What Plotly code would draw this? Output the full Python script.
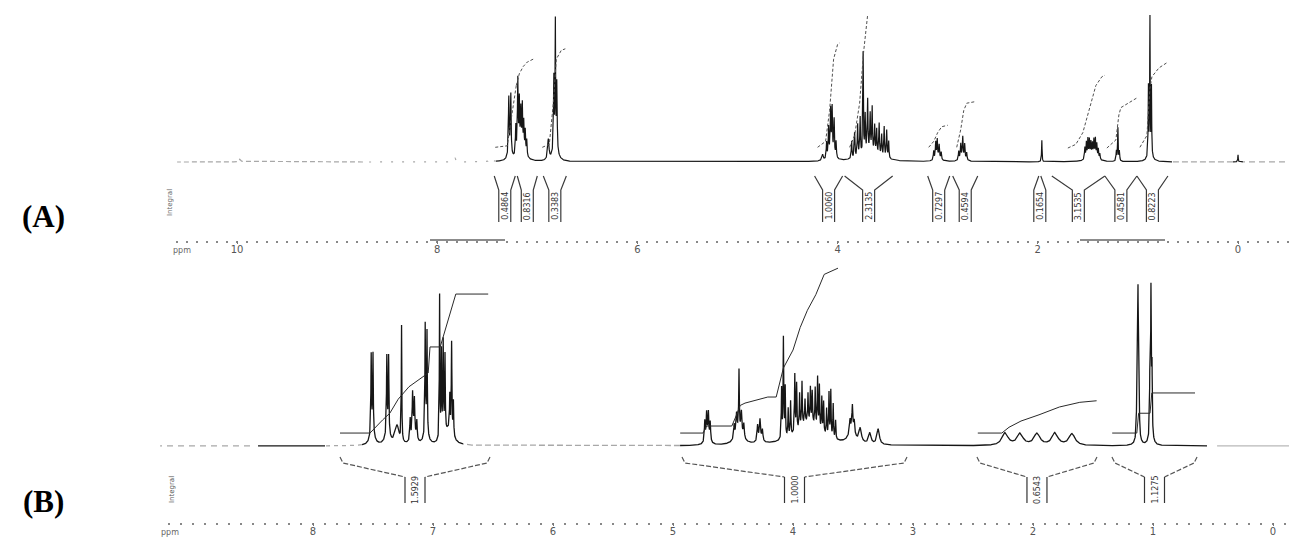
import numpy as np
import plotly.graph_objects as go

# page body keeps an 8px margin, so the figure is drawn 8px in from the top-left
OX, OY = 8, 8
WF, HF = 1289, 530

# ======================= DATA =======================
# ---- Panel A : peak list (chemical shift / ppm, relative height, half-width / ppm)
A_ppm = [9.97, 7.82, 7.47,
         7.285, 7.265, 7.275,
         7.215, 7.195, 7.18, 7.165, 7.15, 7.135, 7.12, 7.105, 7.16,
         6.89, 6.835, 6.82, 6.805, 6.82,
         4.15, 4.11, 4.09, 4.07, 4.055, 4.035, 4.015, 4.06,
         3.86, 3.83, 3.80, 3.775, 3.745, 3.725, 3.70, 3.675, 3.655, 3.63, 3.61, 3.585, 3.56, 3.535, 3.51, 3.49, 3.68,
         3.04, 3.02, 3.005, 2.985, 2.965, 3.00,
         2.79, 2.77, 2.75, 2.73, 2.71, 2.75,
         1.96,
         1.53, 1.515, 1.50, 1.485, 1.47, 1.455, 1.44, 1.425, 1.41, 1.395, 1.38, 1.46,
         1.215, 1.20, 1.185,
         0.895, 0.88, 0.865, 0.88,
         0.0]
A_height = [2, 2.5, 2.5,
            38, 40, 6,
            20, 50, 34, 26, 30, 20, 16, 11, 8,
            14, 50, 86, 46, 8,
            4, 11, 20, 30, 31, 25, 11, 5,
            12, 17, 22, 26, 70, 26, 36, 26, 31, 19, 17, 22, 15, 21, 19, 12, 6,
            6, 11, 12, 9, 5, 3,
            6, 10, 14, 10, 5, 3,
            15,
            8, 11, 13, 12, 10, 9, 12, 13, 10, 7, 4, 3,
            7, 23, 7,
            48, 95, 48, 4,
            5]
A_hwhm = [0.01, 0.006, 0.01,
          0.004, 0.004, 0.02,
          0.004, 0.004, 0.004, 0.004, 0.004, 0.004, 0.004, 0.004, 0.04,
          0.008, 0.004, 0.003, 0.004, 0.03,
          0.008, 0.004, 0.004, 0.004, 0.004, 0.004, 0.004, 0.03,
          0.004, 0.004, 0.004, 0.004, 0.003, 0.004, 0.004, 0.004, 0.004, 0.004, 0.004, 0.004, 0.004, 0.004, 0.004, 0.004, 0.12,
          0.004, 0.004, 0.004, 0.004, 0.004, 0.03,
          0.004, 0.004, 0.004, 0.004, 0.004, 0.03,
          0.003,
          0.004, 0.004, 0.004, 0.004, 0.004, 0.004, 0.004, 0.004, 0.004, 0.004, 0.004, 0.06,
          0.004, 0.003, 0.004,
          0.003, 0.0025, 0.003, 0.03,
          0.003]

# Panel A integration regions
A_reg_start = [7.43, 7.20, 6.94, 4.23, 3.93, 3.10, 2.85, 1.99, 1.86, 1.33, 1.01]
A_reg_end = [7.22, 7.00, 6.71, 3.95, 3.45, 2.88, 2.60, 1.97, 1.33, 1.01, 0.70]
A_reg_label = ["0.4864", "0.8316", "0.3383", "1.0060", "2.3135", "0.7297",
               "0.4594", "0.1654", "3.1535", "0.4581", "0.8223"]

# Panel A integral curves (ppm, relative value)
A_integral_ppm = [[7.42, 7.30, 7.27, 7.24, 7.21],
                  [7.21, 7.18, 7.14, 7.10, 7.04],
                  [6.95, 6.88, 6.84, 6.81, 6.76, 6.72],
                  [4.20, 4.12, 4.08, 4.04, 4.00, 3.98],
                  [3.88, 3.83, 3.78, 3.74, 3.70],
                  [3.09, 3.04, 3.00, 2.96, 2.90],
                  [2.81, 2.77, 2.74, 2.71, 2.63],
                  [1.70, 1.62, 1.55, 1.48, 1.42, 1.36, 1.33],
                  [1.31, 1.22, 1.19, 1.17, 1.00],
                  [0.98, 0.91, 0.88, 0.86, 0.79, 0.70]]
A_integral_val = [[10, 11, 25, 40, 52],
                  [52, 60, 65, 68, 70],
                  [10, 12, 40, 70, 76, 77],
                  [10, 14, 35, 70, 80, 81],
                  [10, 18, 40, 75, 100],
                  [10, 14, 20, 24, 25],
                  [10, 22, 35, 40, 41],
                  [9.5, 12, 20, 38, 52, 58, 59],
                  [9.5, 15, 32, 37, 44],
                  [10, 18, 50, 58, 64, 68]]

A_tick_vals = [10, 8, 6, 4, 2, 0]

# ---- Panel B : peak list
B_ppm = [7.515, 7.50, 7.507, 7.385, 7.37, 7.378, 7.30, 7.262,
         7.19, 7.17, 7.155, 7.135, 7.16, 7.065, 7.05, 7.057,
         6.945, 6.93, 6.915, 6.90, 6.86, 6.845, 6.83, 6.87,
         4.735, 4.72, 4.705, 4.69, 4.712,
         4.49, 4.47, 4.45, 4.43, 4.41, 4.45,
         4.295, 4.275, 4.255, 4.275,
         4.095, 4.08, 4.065, 4.04, 4.02, 3.985, 3.97, 3.945, 3.925, 3.90, 3.875, 3.855,
         3.84, 3.815, 3.795, 3.78, 3.76, 3.745, 3.72, 3.70, 3.685, 3.665, 3.645, 3.87,
         3.525, 3.505, 3.49, 3.51, 3.44, 3.36, 3.29,
         2.233, 2.108, 1.967, 1.817, 1.675,
         1.133, 1.125, 1.117, 1.025, 1.017, 1.009, 1.125, 1.017]
B_height = [50, 50, 9, 48, 48, 9, 12, 74,
            14, 27, 22, 12, 7, 70, 65, 7,
            92, 55, 60, 50, 22, 58, 22, 10,
            13, 16, 16, 12, 5,
            9, 13, 38, 14, 9, 9,
            10, 12, 7, 3,
            32, 64, 32, 18, 22, 37, 30, 22, 28, 15, 18, 22,
            20, 24, 32, 28, 22, 20, 17, 28, 30, 22, 12, 15,
            8, 15, 8, 9, 9, 7, 10,
            8, 7.5, 7.5, 8, 7.5,
            50, 84, 42, 52, 84, 48, 8, 8]
B_hwhm = [0.003, 0.003, 0.02, 0.003, 0.003, 0.02, 0.02, 0.0025,
          0.004, 0.004, 0.004, 0.004, 0.02, 0.003, 0.003, 0.02,
          0.0025, 0.003, 0.003, 0.003, 0.003, 0.003, 0.003, 0.04,
          0.004, 0.004, 0.004, 0.004, 0.02,
          0.005, 0.005, 0.003, 0.005, 0.005, 0.035,
          0.005, 0.005, 0.005, 0.02,
          0.003, 0.003, 0.003, 0.003, 0.003, 0.003, 0.003, 0.003, 0.003, 0.003, 0.003, 0.003,
          0.003, 0.003, 0.003, 0.003, 0.003, 0.003, 0.003, 0.003, 0.003, 0.003, 0.003, 0.12,
          0.005, 0.004, 0.005, 0.03, 0.012, 0.012, 0.012,
          0.03, 0.03, 0.03, 0.03, 0.03,
          0.003, 0.0025, 0.003, 0.003, 0.0025, 0.003, 0.015, 0.015]

B_reg_start = [7.775, 4.925, 2.467, 1.342]
B_reg_end = [6.525, 3.05, 1.467, 0.633]
B_reg_label = ["1.5929", "1.0000", "0.6543", "1.1275"]

B_integral_ppm = [[7.775, 7.525, 7.42, 7.36, 7.29, 7.20, 7.04, 7.025, 6.94, 6.81, 6.54],
                  [4.94, 4.75, 4.72, 4.51, 4.47, 4.44, 4.40, 4.21, 4.14, 4.08, 4.00, 3.94, 3.88, 3.81, 3.74, 3.625],
                  [2.46, 2.26, 2.20, 2.10, 1.95, 1.78, 1.61, 1.47],
                  [1.34, 1.135, 1.12, 1.025, 1.01, 0.65]]
B_integral_val = [[8.3, 8.3, 16.7, 21, 30, 38, 46.8, 63.5, 63.5, 97.4, 97.4],
                  [8.3, 8.3, 12.8, 12.8, 20, 26, 27.5, 31.4, 31.4, 50, 61.5, 76, 87, 97, 110, 114],
                  [8.3, 8.3, 12, 16, 20, 25, 28, 29],
                  [8.3, 8.3, 21, 21, 34, 34]]

B_tick_vals = [8, 7, 6, 5, 4, 3, 2, 1, 0]

# ======================= LAYOUT GEOMETRY =======================
def fx(px):   # page pixel column -> paper fraction
    return (px - OX) / WF

def fy(py):   # page pixel row -> paper fraction
    return 1 - (py - OY) / HF

def ppmA(px):
    return (1238 - px) / 100.1

def vA(py):
    return (162 - py) / 1.47

def ppmB(px):
    return (1273 - px) / 120.0

def vB(py):
    return (446 - py) / 1.56

A_PX = 100.1   # px per ppm
B_PX = 120.0


def spectrum(grid, pos, hgt, wid):
    y = np.zeros_like(grid)
    for p, h, w in zip(pos, hgt, wid):
        y += h / (1.0 + ((grid - p) / w) ** 2)
    return y


fig = go.Figure()

BLACK = '#161616'
GREY = '#a8a8a8'

# ---------------- Panel A spectrum ----------------
gA = np.arange(ppmA(1295), ppmA(177), 0.001)
yA = spectrum(gA, A_ppm, A_height, A_hwhm)

A_segments = [  # (hi ppm, lo ppm, colour, dash)
    (ppmA(177), ppmA(363), GREY, '5px,3px'),
    (ppmA(363), ppmA(496), GREY, '2px,9px'),
    (ppmA(496), ppmA(1172), BLACK, 'solid'),
    (ppmA(1172), 0.05, GREY, '6px,3px'),
    (0.05, -0.05, BLACK, 'solid'),
    (-0.05, ppmA(1295), GREY, '6px,4px'),
]
for hi, lo, col, dash in A_segments:
    m = (gA <= hi) & (gA >= lo)
    fig.add_trace(go.Scatter(x=gA[m], y=yA[m], mode='lines', xaxis='x', yaxis='y',
                             line=dict(color=col, width=1.2, dash=dash), hoverinfo='skip'))

for xs, ys in zip(A_integral_ppm, A_integral_val):
    fig.add_trace(go.Scatter(x=xs, y=ys, mode='lines', xaxis='x', yaxis='y',
                             line=dict(color='#505050', width=1, dash='3px,2px'), hoverinfo='skip'))

bx, by = [], []
off = 6 / A_PX
for L, R in zip(A_reg_start, A_reg_end):
    C = (L + R) / 2
    bx += [L, C + off, C + off, None, R, C - off, C - off, None]
    by += [vA(176), vA(190), vA(222), None, vA(176), vA(190), vA(222), None]
fig.add_trace(go.Scatter(x=bx, y=by, mode='lines', xaxis='x', yaxis='y',
                         line=dict(color='#3a3a3a', width=1.2), hoverinfo='skip'))

annotations = []
for L, R, lab in zip(A_reg_start, A_reg_end, A_reg_label):
    annotations.append(dict(x=(L + R) / 2, y=vA(206), xref='x', yref='y', text=lab,
                            textangle=-90, showarrow=False, xanchor='center', yanchor='middle',
                            font=dict(size=8, color='#333', family='DejaVu Sans')))

# ---------------- Panel B spectrum ----------------
gB = np.arange(ppmB(1297), ppmB(160), 0.001)
yB = spectrum(gB, B_ppm, B_height, B_hwhm)

B_segments = [
    (ppmB(160), ppmB(250), GREY, '6px,5px'),
    (ppmB(258), ppmB(325), BLACK, 'solid'),
    (ppmB(325), ppmB(362), GREY, '4px,4px'),
    (ppmB(362), ppmB(463), BLACK, 'solid'),
    (ppmB(463), ppmB(680), GREY, '6px,3px'),
    (ppmB(680), ppmB(1207), BLACK, 'solid'),
    (ppmB(1217), ppmB(1297), '#b8b8b8', 'solid'),
]
for hi, lo, col, dash in B_segments:
    m = (gB <= hi) & (gB >= lo)
    fig.add_trace(go.Scatter(x=gB[m], y=yB[m], mode='lines', xaxis='x2', yaxis='y2',
                             line=dict(color=col, width=1.3, dash=dash), hoverinfo='skip'))

for xs, ys in zip(B_integral_ppm, B_integral_val):
    fig.add_trace(go.Scatter(x=xs, y=ys, mode='lines', xaxis='x2', yaxis='y2',
                             line=dict(color='#2a2a2a', width=1), hoverinfo='skip'))

sx, sy, vx, vy = [], [], [], []
offb = 10 / B_PX
hook = 3 / B_PX
for L, R in zip(B_reg_start, B_reg_end):
    C = (L + R) / 2
    sx += [L, L - hook, C + offb, None, R, R + hook, C - offb, None]
    sy += [vB(457), vB(463), vB(477), None, vB(457), vB(463), vB(477), None]
    vx += [C + offb, C + offb, None, C - offb, C - offb, None]
    vy += [vB(477), vB(503), None, vB(477), vB(503), None]
fig.add_trace(go.Scatter(x=sx, y=sy, mode='lines', xaxis='x2', yaxis='y2',
                         line=dict(color='#555', width=1.2, dash='5px,2px'), hoverinfo='skip'))
fig.add_trace(go.Scatter(x=vx, y=vy, mode='lines', xaxis='x2', yaxis='y2',
                         line=dict(color='#333', width=1.2), hoverinfo='skip'))
for L, R, lab in zip(B_reg_start, B_reg_end, B_reg_label):
    annotations.append(dict(x=(L + R) / 2, y=vB(490), xref='x2', yref='y2', text=lab,
                            textangle=-90, showarrow=False, xanchor='center', yanchor='middle',
                            font=dict(size=8, color='#333', family='DejaVu Sans')))

# ---------------- static text ----------------
def paper_text(px, py, text, size, color, family, angle=0):
    return dict(x=fx(px), y=fy(py), xref='paper', yref='paper', text=text, showarrow=False,
                xanchor='center', yanchor='middle', textangle=angle,
                font=dict(size=size, color=color, family=family))

annotations += [
    paper_text(43, 216, '<b>(A)</b>', 31, 'black', 'Liberation Serif'),
    paper_text(43, 501, '<b>(B)</b>', 31, 'black', 'Liberation Serif'),
    paper_text(170, 203, 'Integral', 7, '#666', 'DejaVu Sans', -90),
    paper_text(172, 490, 'Integral', 7, '#555', 'DejaVu Sans', -90),
    paper_text(182, 250, 'ppm', 8, '#666', 'DejaVu Sans'),
    paper_text(170, 532, 'ppm', 8, '#666', 'DejaVu Sans'),
]

shapes = [
    dict(type='line', xref='x', yref='paper', x0=ppmA(430), x1=ppmA(505), y0=fy(240), y1=fy(240),
         line=dict(color='#666', width=1.3)),
    dict(type='line', xref='x', yref='paper', x0=ppmA(1080), x1=ppmA(1165), y0=fy(240), y1=fy(240),
         line=dict(color='#666', width=1.3)),
]

tickfont = dict(size=10, color='#555', family='DejaVu Sans')
fig.update_layout(
    width=WF, height=HF, margin=dict(l=0, r=0, t=0, b=0),
    paper_bgcolor='white', plot_bgcolor='white', showlegend=False,
    annotations=annotations, shapes=shapes,
    xaxis=dict(domain=[fx(177), fx(1295)], range=[ppmA(177), ppmA(1295)],
               anchor='free', position=fy(240),
               tickmode='array', tickvals=A_tick_vals, ticktext=[str(t) for t in A_tick_vals],
               ticks='outside', ticklen=3, tickwidth=1, tickcolor='#777', ticklabelstandoff=-3,
               minor=dict(dtick=0.1, tick0=0, ticks='outside', ticklen=2, tickwidth=1.5, tickcolor='#888'),
               showline=False, showgrid=False, zeroline=False, tickfont=tickfont),
    yaxis=dict(domain=[fy(258), 1], range=[vA(258), vA(OY)], visible=False, fixedrange=True),
    xaxis2=dict(domain=[fx(160), 1], range=[ppmB(160), ppmB(1297)],
                anchor='free', position=fy(522),
                tickmode='array', tickvals=B_tick_vals, ticktext=[str(t) for t in B_tick_vals],
                ticks='outside', ticklen=3, tickwidth=1, tickcolor='#777', ticklabelstandoff=-3,
                minor=dict(dtick=0.1, tick0=0, ticks='outside', ticklen=2, tickwidth=1.5, tickcolor='#888'),
                showline=False, showgrid=False, zeroline=False, tickfont=tickfont),
    yaxis2=dict(domain=[0, fy(262)], range=[vB(538), vB(262)], visible=False, fixedrange=True),
)

fig.write_html("out.html")
